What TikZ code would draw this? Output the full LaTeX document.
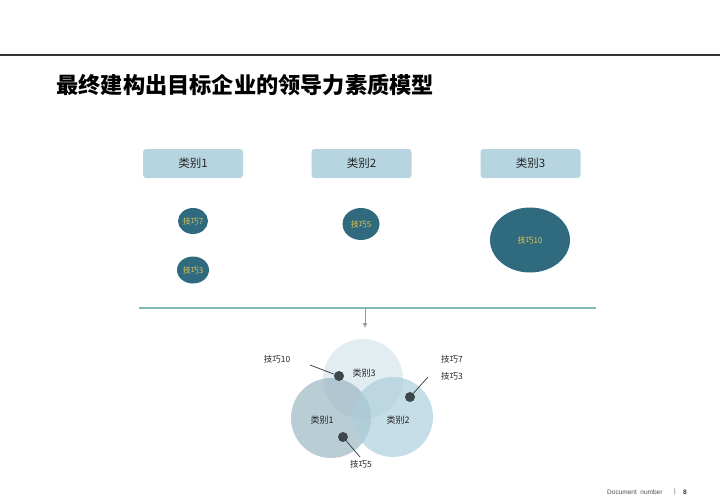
\documentclass[tikz,border=0pt]{standalone}
\usepackage{fontspec}
\usepackage{xcolor}
\usepackage{tikz}
\usetikzlibrary{arrows.meta,positioning,shapes.geometric}
\setmainfont{Noto Sans CJK SC}
\newfontfamily\footfont{Liberation Sans}
\definecolor{catfill}{RGB}{182,213,225}
\definecolor{skillfill}{RGB}{47,106,126}
\definecolor{skilltext}{RGB}{222,196,90}
\definecolor{divider}{RGB}{130,185,185}
\definecolor{vennone}{RGB}{155,184,195}
\definecolor{venntwo}{RGB}{172,206,219}
\definecolor{vennthree}{RGB}{212,229,235}
\definecolor{dotgray}{RGB}{62,70,76}

\begin{document}
\begin{tikzpicture}[x=1pt, y=-1pt,
catbox/.style={fill=catfill, rounded corners=3pt, minimum width=100pt, minimum height=29pt, font=\fontsize{11.5}{13}\selectfont, text=black!85},
skill/.style={ellipse, fill=skillfill, inner sep=0pt, font=\fontsize{8}{9}\selectfont, text=skilltext},
venn/.style={circle, minimum size=80pt, fill opacity=0.7, text opacity=1},
vennlabel/.style={font=\fontsize{9}{10}\selectfont, text=black!85},
pin/.style={circle, fill=dotgray, inner sep=0pt, minimum size=10pt},
pinlabel/.style={font=\fontsize{8.5}{9}\selectfont, text=black!85, inner sep=0pt},
pinline/.style={draw=dotgray, line width=0.8pt},
arrow/.style={-{Latex[length=5pt, width=5pt]}, line width=1pt, gray!80}
]
\useasboundingbox (0,0) rectangle (720,498);
\draw[line width=1.3pt, black!80] (0,55) -- (720,55);
\node[anchor=west, font=\fontsize{22.2}{26}\selectfont\bfseries] (title) at (53,85) {最终建构出目标企业的领导力素质模型};

% categories
\node[catbox] (c1) at (193,163.5) {类别1};
\node[catbox] (c2) at (361.5,163.5) {类别2};
\node[catbox] (c3) at (530.5,163.5) {类别3};

\node[skill, minimum width=30pt, minimum height=26pt] (k7) at (193,221) {技巧7};
\node[skill, minimum width=32pt, minimum height=27pt] (k3) at (193,270) {技巧3};
\node[skill, minimum width=37pt, minimum height=32pt] (k5) at (361,224) {技巧5};
\node[skill, minimum width=80pt, minimum height=65pt] (k10) at (530,240) {技巧10};

% divider
\coordinate (dl) at (139,308);
\coordinate (dr) at (596,308);
\coordinate (dm) at (365,308);
\coordinate (dd) at (365,328);
\draw[line width=1.6pt, divider] (dl) -- (dr);
\draw[arrow] (dm) -- (dd);

% venn
\node[venn, fill=vennthree] (v3) at (363,379) {};
\node[venn, fill=vennone] (v1) at (331,418) {};
\node[venn, fill=venntwo] (v2) at (393,417) {};
\node[vennlabel] (t3) at (364,373) {类别3};
\node[vennlabel] (t1) at (322,420) {类别1};
\node[vennlabel] (t2) at (398,420) {类别2};

\node[pin] (p10) at (339,376) {};
\node[pin] (p73) at (410,397) {};
\node[pin] (p5) at (343,437) {};

\node[pinlabel] (l10) at (277,359) {技巧10};
\node[pinlabel] (l7) at (452,359) {技巧7};
\node[pinlabel] (l3) at (452,376) {技巧3};
\node[pinlabel] (l5) at (361,464) {技巧5};

\coordinate (e10) at (310,365);
\coordinate (e73) at (428,377);
\coordinate (e5) at (360,457);
\draw[pinline] (p10) -- (e10);
\draw[pinline] (p73) -- (e73);
\draw[pinline] (p5) -- (e5);

% footer
\node[anchor=east, font=\footfont\fontsize{6.5}{8}\selectfont, text=black!70] (doc) at (666,492) {Document\ \ number};
\node[font=\footfont\fontsize{6.5}{8}\selectfont, text=black!70] (bar) at (675,492) {|};
\node[font=\footfont\bfseries\fontsize{6.5}{8}\selectfont, text=black!80] (pg) at (685,492) {8};
\end{tikzpicture}
\end{document}
